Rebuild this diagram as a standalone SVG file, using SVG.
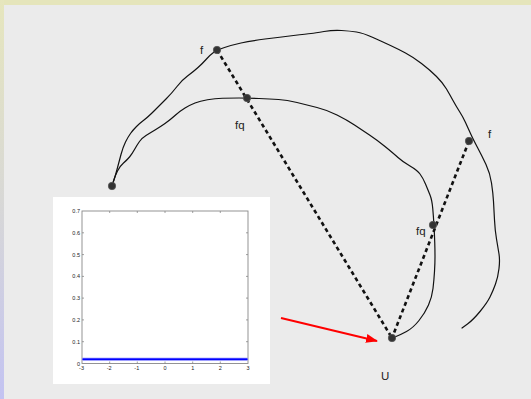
<svg xmlns="http://www.w3.org/2000/svg" width="531" height="399" viewBox="0 0 531 399">
<defs>
<linearGradient id="side" x1="0" y1="0" x2="0" y2="1">
<stop offset="0" stop-color="#e6e6bd"/>
<stop offset="0.5" stop-color="#d8d8d6"/>
<stop offset="1" stop-color="#c3c3f2"/>
</linearGradient>
<marker id="redhead" markerWidth="12" markerHeight="9" refX="11" refY="4.5" orient="auto" markerUnits="userSpaceOnUse">
<path d="M0,0 L12,4.5 L0,9 Z" fill="#ff0000"/>
</marker>
<style>
.curve{fill:none;stroke:#111;stroke-width:1.2;stroke-linejoin:round;stroke-linecap:round}
.dash{fill:none;stroke:#111;stroke-width:2.6;stroke-dasharray:4 3.2}
.dot{fill:#333;stroke:#555;stroke-width:0.8}
.lbl{font-family:"Liberation Sans",Arial,sans-serif;font-size:11.5px;fill:#222}
.tick{font-family:"Liberation Sans",Arial,sans-serif;font-size:5.5px;fill:#222}
.ax{fill:none;stroke:#888;stroke-width:0.9}
</style>
</defs>
<rect width="531" height="399" fill="#ebebeb"/>
<rect width="531" height="5" fill="#e5e5bb"/>
<rect x="0" y="0" width="4" height="399" fill="url(#side)"/>

<g id="curves">
<path class="curve" d="M112,186 L113.5,181.5 Q115,177 117,169.5 Q119,162 121,154.5 Q123,147 125.5,142 Q128,137 130.5,133.5 Q133,130 136.5,126.5 Q140,123 144,120 Q148,117 154,111 Q160,105 166,99 Q172,93 177,86.5 Q182,80 187.5,76 Q193,72 198,67.5 Q203,63 206.5,59 Q210,55 213.5,52.5 Q217,50 224.5,47.5 Q232,45 241,43 Q250,41 265,39 Q280,37 293.5,35.5 Q307,34 311,33.5 Q315,33 324,31.5 Q333,30 341.5,30.5 Q350,31 356.5,32 Q363,33 373,37.5 Q383,42 390.5,45.5 Q398,49 405.5,53 Q413,57 421.5,63.5 Q430,70 436.5,76.5 Q443,83 446.5,89 Q450,95 453,100.5 Q456,106 459.5,111.5 Q463,117 465.5,122.5 Q468,128 470.5,133.5 Q473,139 477.5,147.5 Q482,156 486,164.5 Q490,173 491.5,183 Q493,193 493.5,201.5 Q494,210 494.5,220 Q495,230 496.5,239 Q498,248 499,254 Q500,260 499,268.5 Q498,277 495.5,284 Q493,291 490,297 Q487,303 480,311.5 Q473,320 467.5,324 L462,328"/>
<path class="curve" d="M112,186 L113.5,181 Q115,176 117.5,171 Q120,166 123.5,163 Q127,160 129.5,157 Q132,154 134.5,149.5 Q137,145 139.5,141.5 Q142,138 146,135.5 Q150,133 155,130 Q160,127 165,123.5 Q170,120 175,115.5 Q180,111 185,108 Q190,105 195,103 Q200,101 207.5,99.75 Q215,98.5 222.5,98.25 Q230,98 239,98 Q248,98 259,98.5 Q270,99 278.5,99.5 Q287,100 297,102.5 Q307,105 317,107.5 Q327,110 337,115 Q347,120 354.5,125 Q362,130 369.5,135 Q377,140 385,146.5 Q393,153 398,157.5 Q403,162 410,166 Q417,170 420,174 Q423,178 425.5,184 Q428,190 430,195 Q432,200 432.75,208.5 Q433.5,217 434,226 Q434.5,235 434.75,242.5 Q435,250 435,256.5 Q435,263 434.5,271.5 Q434,280 433,288.5 Q432,297 428.5,305 Q425,313 419,320.5 Q413,328 406.5,331.5 Q400,335 396,336.5 L392,338"/>
</g>

<g id="connectors">
<line class="dash" x1="217" y1="50" x2="392" y2="338"/>
<line class="dash" x1="469" y1="141" x2="392" y2="338"/>
<line x1="281" y1="318" x2="377" y2="341" stroke="#ff0000" stroke-width="2" marker-end="url(#redhead)"/>
</g>

<g id="node-start"><circle class="dot" cx="112" cy="186" r="3.7"/></g>
<g id="node-f1"><circle class="dot" cx="217" cy="50" r="3.7"/><text class="lbl" x="200" y="54">f</text></g>
<g id="node-fq1"><circle class="dot" cx="247" cy="98" r="3.7"/><text class="lbl" x="235" y="129">fq</text></g>
<g id="node-f2"><circle class="dot" cx="469" cy="141" r="3.7"/><text class="lbl" x="488" y="138">f</text></g>
<g id="node-fq2"><circle class="dot" cx="433" cy="225" r="3.7"/><text class="lbl" x="416" y="235">fq</text></g>
<g id="node-U"><circle class="dot" cx="392" cy="338" r="3.7"/><text class="lbl" x="381" y="380">U</text></g>

<g id="plot">
<rect x="53" y="197" width="217" height="187" fill="#ffffff"/>
<rect class="ax" x="82" y="211" width="166" height="152.5"/>
<g stroke="#888" stroke-width="0.8">
<path d="M82,232.8h2M82,254.6h2M82,276.4h2M82,298.1h2M82,319.9h2M82,341.7h2"/>
<path d="M248,232.8h-2M248,254.6h-2M248,276.4h-2M248,298.1h-2M248,319.9h-2M248,341.7h-2"/>
<path d="M109.7,363.5v-2M137.3,363.5v-2M165,363.5v-2M192.7,363.5v-2M220.3,363.5v-2"/>
<path d="M109.7,211v2M137.3,211v2M165,211v2M192.7,211v2M220.3,211v2"/>
</g>
<line x1="82.5" y1="359.3" x2="247.5" y2="359.3" stroke="#7f7fff" stroke-width="3"/>
<line x1="82.5" y1="359.3" x2="247.5" y2="359.3" stroke="#0000ff" stroke-width="1.6"/>
<g class="tick" text-anchor="end">
<text x="80" y="213">0.7</text>
<text x="80" y="234.8">0.6</text>
<text x="80" y="256.6">0.5</text>
<text x="80" y="278.4">0.4</text>
<text x="80" y="300.1">0.3</text>
<text x="80" y="321.9">0.2</text>
<text x="80" y="343.7">0.1</text>
<text x="80" y="365.5">0</text>
</g>
<g class="tick" text-anchor="middle">
<text x="81.5" y="370">-3</text>
<text x="109.2" y="370">-2</text>
<text x="136.8" y="370">-1</text>
<text x="165" y="370">0</text>
<text x="192.7" y="370">1</text>
<text x="220.3" y="370">2</text>
<text x="248" y="370">3</text>
</g>
</g>
</svg>
